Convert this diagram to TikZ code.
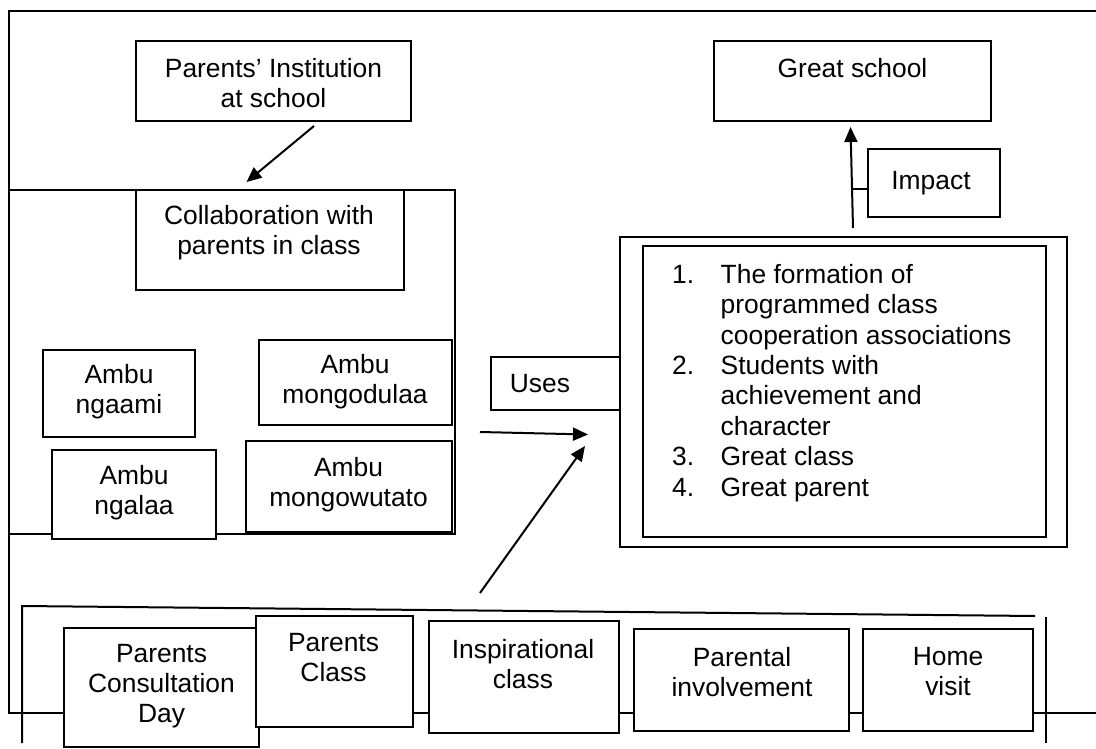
\documentclass[tikz,border=0pt]{standalone}
\usepackage{fontspec}
\setmainfont{Liberation Sans}
\usetikzlibrary{arrows.meta,fit}
\newcommand\myfs{\fontsize{26.4}{30}\selectfont}
\newcommand\mylfs{\fontsize{26.4}{30.4}\selectfont}
\begin{document}
\begin{tikzpicture}[x=1pt,y=-1pt,
  box/.style={draw, line width=2pt, fill=white, inner sep=0pt},
  frame/.style={line width=2pt},
  txt/.style={align=center, font=\myfs, inner sep=0pt},
  arr/.style={line width=2pt, -{Triangle[length=15pt,width=13pt]}}]
\useasboundingbox[fill=white] (0,0) rectangle (1096,749);

% outer frame
\draw[frame] (1096,11) -- (9,11) -- (9,713) -- (1096,713);
% middle group frame
\draw[frame] (9,190) -- (455,190) -- (455,534) -- (9,534);
% bottom group frame
\draw[frame] (22,743) -- (22,606) -- (1035,616);
\draw[frame] (1046,617) -- (1046,743);

% top boxes
\node[box, fit={(136,41) (411,121)}] (pi) {};
\node[txt] at (273.5,83) {Parents’ Institution\\at school};
\node[box, fit={(136,190) (404,290)}] (col) {};
\node[txt] at (269,233) {Collaboration with\\parents in class};

\node[box, fit={(259,340) (452,425)}] (amd) {};
\node[txt] at (355,382) {Ambu\\mongodulaa};
\node[box, fit={(43,350) (195,437)}] (ang) {};
\node[txt] at (119,392) {Ambu\\ngaami};
\node[box, fit={(52,450) (216,539)}] (angl) {};
\node[txt] at (134,493) {Ambu\\ngalaa};
\node[box, fit={(246,441) (452,532)}] (amw) {};
\node[txt] at (348.5,485) {Ambu\\mongowutato};

% right side
\node[box, fit={(714,41) (991,121)}] (gs) {};
\node[txt] at (852.5,68) {Great school};
\node[box, fit={(868,149) (1000,217)}] (imp) {};
\node[txt] at (931,183) {Impact};

\node[box, fit={(620,237) (1067,547)}] (lo) {};
\node[box, fit={(643,245.5) (1046,537)}] (li) {};
\node[box, fit={(491,357) (620,410)}] (uses) {};
\node[txt] at (540,384) {Uses};
\node[anchor=base west, align=left, inner sep=0pt, font=\mylfs] (lst) at (672,496)
 {\makebox[48.5pt][l]{1.}The formation of\\
  \hspace*{48.5pt}programmed class\\
  \hspace*{48.5pt}cooperation associations\\
  \makebox[48.5pt][l]{2.}Students with\\
  \hspace*{48.5pt}achievement and\\
  \hspace*{48.5pt}character\\
  \makebox[48.5pt][l]{3.}Great class\\
  \makebox[48.5pt][l]{4.}Great parent};

% bottom boxes
\node[box, fit={(64,628) (259,747)}] (pcd) {};
\node[txt] at (161.5,686) {Parents\\Consultation\\Day};
\node[box, fit={(255.5,616) (412.5,727)}] (pc) {};
\node[txt] at (333.5,658) {Parents\\Class};
\node[box, fit={(429,621) (619,733)}] (ic) {};
\node[txt] at (523,664) {Inspirational\\class};
\node[box, fit={(634,629) (849,731)}] (pinv) {};
\node[txt] at (742,672) {Parental\\involvement};
\node[box, fit={(863,629) (1033,731)}] (hv) {};
\node[txt] at (948,672) {Home\\visit};

% connectors
\coordinate (a1s) at (314,126);
\coordinate (a1e) at (246.5,182);
\draw[arr] (a1s) -- (a1e);
\coordinate (a2s) at (480,432);
\coordinate (a2e) at (588,434.5);
\draw[arr] (a2s) -- (a2e);
\coordinate (a3s) at (480,593);
\coordinate (a3e) at (585,446);
\draw[arr] (a3s) -- (a3e);
\coordinate (a4s) at (853,228);
\coordinate (a4e) at (850.5,127);
\draw[arr] (a4s) -- (a4e);
\coordinate (imj) at (852,189);
\draw[frame] (imj) -- (imp.west |- imj);
\end{tikzpicture}
\end{document}
